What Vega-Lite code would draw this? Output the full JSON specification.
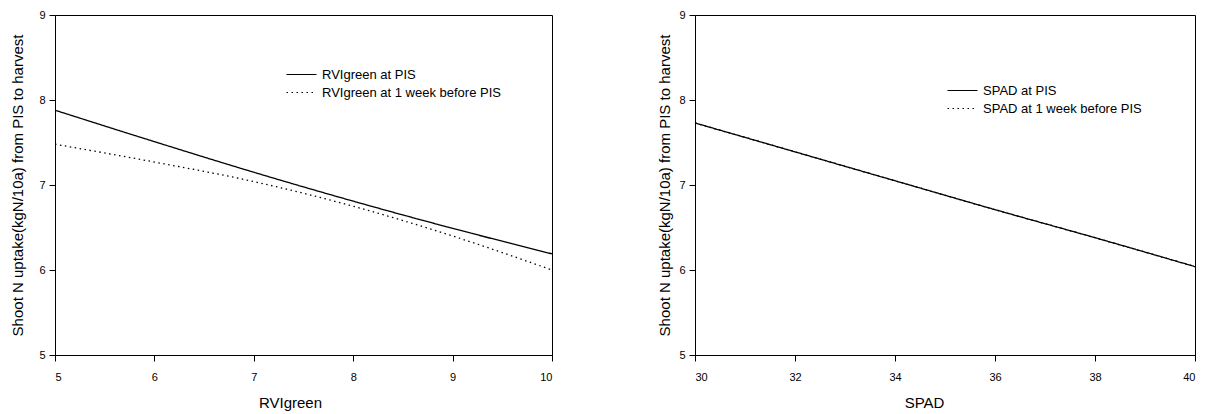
{
  "$schema": "https://vega.github.io/schema/vega-lite/v6.json",
  "autosize": {"type": "pad"},
  "padding": {"left": 10, "top": 8, "right": 0, "bottom": 0},
  "background": "white",
  "spacing": 101,
  "config": {
    "font": "Liberation Sans",
    "view": {"stroke": "black", "strokeWidth": 1},
    "axis": {
      "grid": false,
      "domainColor": "black",
      "tickColor": "black",
      "tickSize": 6,
      "labelColor": "black",
      "titleColor": "black",
      "labelFontSize": 11,
      "titleFontSize": 15,
      "titleFontWeight": "normal",
      "labelFont": "Liberation Sans",
      "titleFont": "Liberation Sans"
    },
    "legend": {
      "labelFont": "Liberation Sans",
      "labelFontSize": 13,
      "labelColor": "black",
      "labelLimit": 0,
      "symbolType": "M-2,0H2",
      "symbolSize": 225,
      "symbolStrokeColor": "black",
      "symbolStrokeWidth": 1.2,
      "labelOffset": 12,
      "rowPadding": 2,
      "padding": 0
    }
  },
  "datasets": {
    "rvi": [
      {"series": "RVIgreen at PIS", "x": 5, "y": 7.88},
      {"series": "RVIgreen at PIS", "x": 6, "y": 7.51},
      {"series": "RVIgreen at PIS", "x": 7, "y": 7.15},
      {"series": "RVIgreen at PIS", "x": 8, "y": 6.81},
      {"series": "RVIgreen at PIS", "x": 9, "y": 6.49},
      {"series": "RVIgreen at PIS", "x": 10, "y": 6.19},
      {"series": "RVIgreen at 1 week before PIS", "x": 5, "y": 7.48},
      {"series": "RVIgreen at 1 week before PIS", "x": 6, "y": 7.27},
      {"series": "RVIgreen at 1 week before PIS", "x": 7, "y": 7.04},
      {"series": "RVIgreen at 1 week before PIS", "x": 8, "y": 6.75},
      {"series": "RVIgreen at 1 week before PIS", "x": 9, "y": 6.40},
      {"series": "RVIgreen at 1 week before PIS", "x": 10, "y": 6.0}
    ],
    "spad": [
      {"series": "SPAD at PIS", "x": 30, "y": 7.73},
      {"series": "SPAD at PIS", "x": 32, "y": 7.39},
      {"series": "SPAD at PIS", "x": 34, "y": 7.05},
      {"series": "SPAD at PIS", "x": 36, "y": 6.71},
      {"series": "SPAD at PIS", "x": 38, "y": 6.38},
      {"series": "SPAD at PIS", "x": 40, "y": 6.04},
      {"series": "SPAD at 1 week before PIS", "x": 30, "y": 7.73},
      {"series": "SPAD at 1 week before PIS", "x": 32, "y": 7.39},
      {"series": "SPAD at 1 week before PIS", "x": 34, "y": 7.05},
      {"series": "SPAD at 1 week before PIS", "x": 36, "y": 6.71},
      {"series": "SPAD at 1 week before PIS", "x": 38, "y": 6.38},
      {"series": "SPAD at 1 week before PIS", "x": 40, "y": 6.04}
    ]
  },
  "resolve": {"scale": {"strokeDash": "independent", "x": "independent", "y": "independent"}, "legend": {"strokeDash": "independent"}},
  "hconcat": [
    {
      "width": 497,
      "height": 340,
      "data": {"name": "rvi"},
      "mark": {"type": "line", "color": "black", "strokeWidth": 1.3, "interpolate": "monotone"},
      "encoding": {
        "x": {
          "field": "x", "type": "quantitative",
          "scale": {"domain": [5, 10], "nice": false, "zero": false},
          "axis": {"values": [5, 6, 7, 8, 9, 10], "title": "RVIgreen", "labelPadding": 10, "titlePadding": 13, "titleX": 235}
        },
        "y": {
          "field": "y", "type": "quantitative",
          "scale": {"domain": [5, 9], "nice": false, "zero": false},
          "axis": {"values": [5, 6, 7, 8, 9], "format": "d", "title": "Shoot N uptake(kgN/10a) from PIS to harvest", "labelPadding": 4, "titlePadding": 13}
        },
        "strokeDash": {
          "field": "series", "type": "nominal",
          "scale": {"domain": ["RVIgreen at PIS", "RVIgreen at 1 week before PIS"], "range": [[1, 0], [1.5, 3.5]]},
          "legend": {"title": null, "orient": "none", "legendX": 238, "legendY": 51}
        }
      }
    },
    {
      "width": 500,
      "height": 340,
      "data": {"name": "spad"},
      "mark": {"type": "line", "color": "black", "strokeWidth": 1.3, "interpolate": "monotone"},
      "encoding": {
        "x": {
          "field": "x", "type": "quantitative",
          "scale": {"domain": [30, 40], "nice": false, "zero": false},
          "axis": {"values": [30, 32, 34, 36, 38, 40], "title": "SPAD", "labelPadding": 10, "titlePadding": 13, "titleX": 229}
        },
        "y": {
          "field": "y", "type": "quantitative",
          "scale": {"domain": [5, 9], "nice": false, "zero": false},
          "axis": {"values": [5, 6, 7, 8, 9], "format": "d", "title": "Shoot N uptake(kgN/10a) from PIS to harvest", "labelPadding": 4, "titlePadding": 6}
        },
        "strokeDash": {
          "field": "series", "type": "nominal",
          "scale": {"domain": ["SPAD at PIS", "SPAD at 1 week before PIS"], "range": [[1, 0], [1.5, 3.5]]},
          "legend": {"title": null, "orient": "none", "legendX": 259, "legendY": 67}
        }
      }
    }
  ]
}
